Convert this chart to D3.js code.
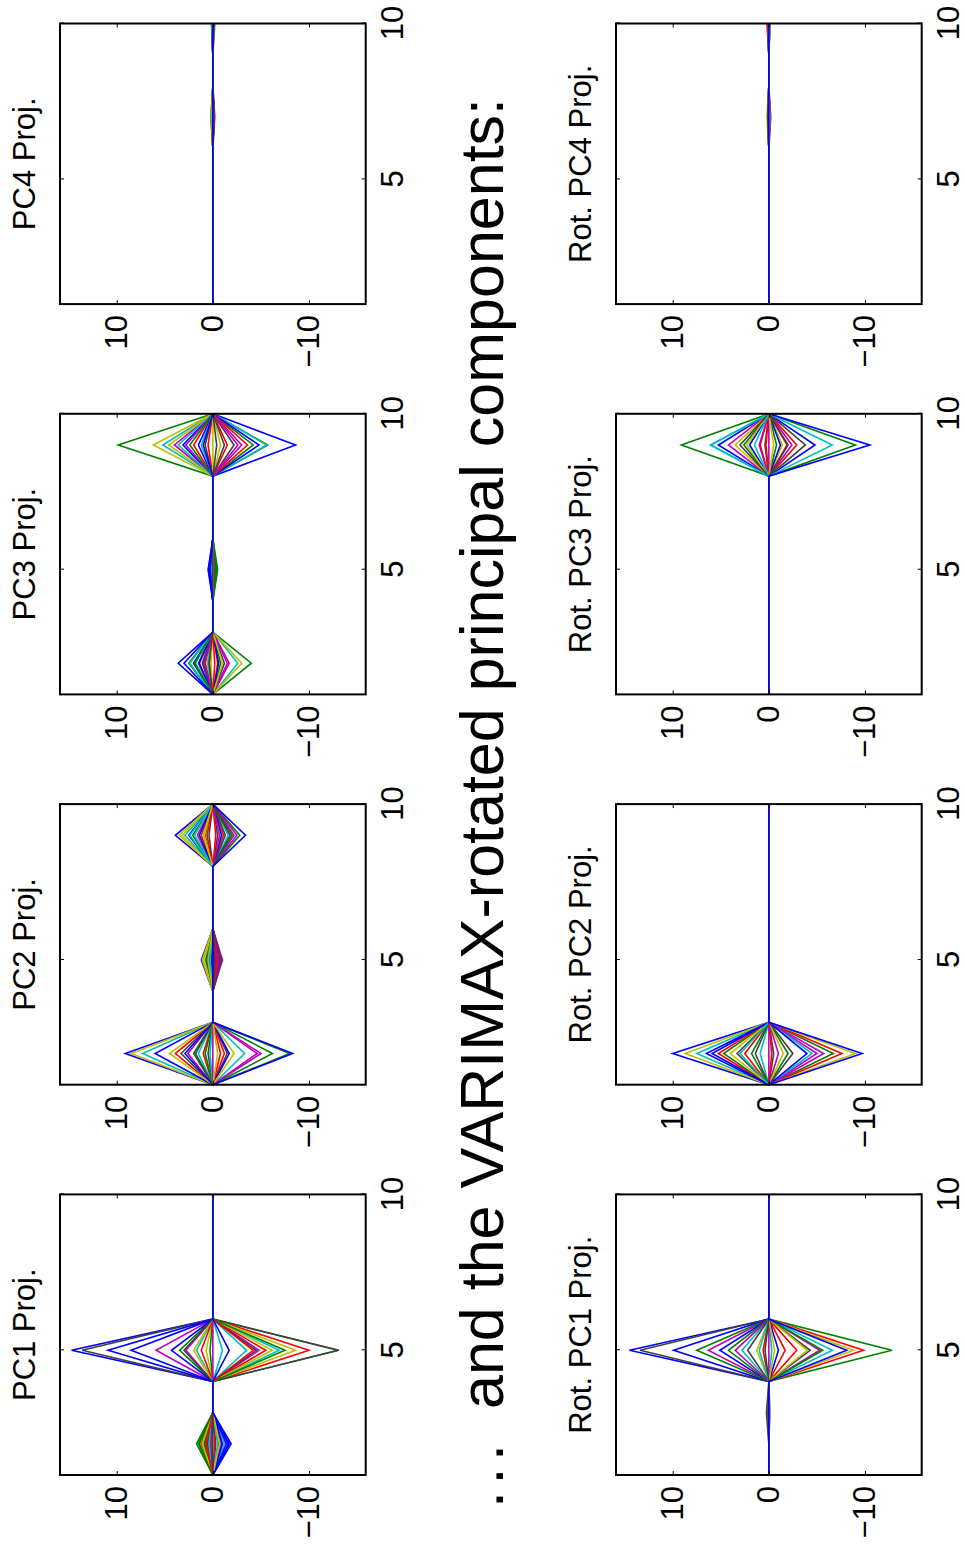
<!DOCTYPE html>
<html>
<head>
<meta charset="utf-8">
<script src="https://cdn.jsdelivr.net/npm/d3@7"></script>
<style>
  body { margin: 0; background: #fff; }
  svg { display: block; }
</style>
</head>
<body>
<div class="chart"></div>
<script>
// values along the x axis (variable index) and ticks
const xValues = [1, 2, 3, 4, 5, 6, 7, 8, 9, 10];
const xTicks = [5, 10];
const yTicks = [-10, 0, 10];
const yLimit = 15.9;

// MATLAB default color order
const colorOrder = ["#0000ff", "#008000", "#ff0000", "#00bfbf", "#bf00bf", "#bfbf00", "#404040"];

// projection values of each of the 29 lines, at the x positions where they leave zero
const pc1_x2 = [-1.9, 1.7, 1.2, -0.8, 0.5, 1.0, -0.3, -1.6, 1.4, 0.8, -1.2, -0.6, 0.3, 0.6, -1.4, 0.9, -0.2, 0.4, -0.9, 1.1, 0.2, -1.0, 1.5, 0.7, -0.5, 0.1, -0.7, 0.0, -1.7];
const pc1_x5 = [14.7, -13.0, -10.0, -6.9, 5.9, -8.6, 13.6, 10.9, 3.45, -5.5, 1.7, -4.8, 0.7, -13.1, 8.5, 0.3, 1.2, -3.5, 2.8, -6.2, -4.5, 4.3, -7.5, -4.2, -1.0, 0.0, 2.0, 3.0, -1.7];

const pc2_x2 = [9.1, -8.0, 3.9, 7.3, -5.0, 8.5, 3.3, 6.0, 2.0, -1.2, -3.3, 2.6, 4.5, -1.5, -1.7, -6.2, 1.0, 1.5, -4.6, -2.2, 0.5, 2.9, 0.8, -0.8, 0.3, 0.0, -0.5, 1.8, -8.3];
const pc2_x5 = [1.2, 0.6, -0.4, 0.9, -1.0, 1.1, 0.3, -0.7, 0.8, -0.2, 0.5, -0.8, 1.0, -0.5, 0.4, 0.7, -0.3, 0.2, -0.6, 0.9, -0.9, 0.1, 0.6, -0.4, 0.3, -0.1, 0.5, -0.2, 0.0];
const pc2_x9 = [3.9, -2.8, 1.2, 2.9, -2.2, 3.5, -0.5, 2.5, 0.8, -1.1, -1.6, 1.6, 3.2, 0.4, -0.9, 2.1, -0.3, 1.9, -2.5, 0.9, -1.3, 1.4, -2.0, 0.6, 2.4, -0.7, 1.0, -1.8, -3.4];

const pc3_x2 = [3.6, -4.0, -0.5, -2.6, -1.7, -3.0, 1.5, 2.0, 2.5, 0.3, 2.4, 1.1, 0.6, -1.2, 1.4, -0.8, 0.9, 1.8, -1.5, 0.2, 1.0, -0.6, 1.9, -0.2, 0.5, 0.8, -1.0, 0.4, 3.0];
const pc3_x5 = [0.5, -0.5, 0.1, -0.2, 0.2, -0.3, 0.0, 0.3, -0.4, 0.1, 0.0, 0.2, -0.1, 0.1, 0.4, -0.3, 0.0, -0.1, 0.1, 0.0, 0.1, 0.2, -0.2, 0.0, 0.1, -0.1, 0.0, 0.0, 0.3];
const pc3_x9 = [-8.6, 9.85, 2.0, 5.2, 4.0, 6.2, 0.8, 3.1, -5.7, -1.5, -5.6, -3.0, 4.6, -2.2, 1.5, -4.2, 0.5, 3.6, 2.8, -0.8, -1.2, -4.8, 2.4, -3.6, 1.2, -2.6, 0.0, -0.4, 1.0];

const pc4_x7 = [0.0, -0.1, 0.2, 0.1, -0.1, 0.15, -0.2, 0.1, 0.0, -0.1, 0.2, 0.0, 0.1, -0.15, 0.0, 0.1, -0.1, 0.0, 0.1, 0.0, -0.1, 0.0, 0.1, 0.0, 0.0, -0.1, 0.1, 0.0, 0.0];
const pc4_x10 = [0.0, 0.1, -0.2, 0.0, 0.1, -0.1, 0.15, 0.0, -0.1, 0.1, 0.0, 0.0, -0.1, 0.1, 0.0, 0.0, 0.1, -0.1, 0.0, 0.0, 0.1, 0.0, -0.1, 0.0, 0.1, 0.0, 0.0, -0.1, 0.0];

const rot1_x3 = [0.0, 0.0, 0.0, 0.0, 0.0, 0.0, 0.25, 0.0, 0.0, 0.0, 0.0, 0.0, 0.0, -0.1, 0.0, 0.0, 0.0, 0.0, 0.0, 0.0, 0.1, 0.0, 0.0, 0.0, 0.0, 0.0, 0.0, 0.0, 0.0];
const rot1_x5 = [14.5, -12.8, -9.85, -6.6, 6.3, -8.8, 13.4, 9.9, 7.5, -2.9, 2.8, -5.3, 1.25, -4.3, 5.1, 4.2, -1.7, -0.3, 3.5, -4.0, 2.2, -1.0, -5.6, 0.6, 1.0, 0.0, -0.6, 0.4, -8.1];
const rot2_x2 = [10.0, 4.7, 5.25, 7.5, -1.0, 8.7, 3.3, 6.5, -2.0, 2.5, 0.9, -5.0, 4.0, -0.5, 5.9, -6.7, -7.6, -4.5, -5.7, -1.5, 1.4, -3.96, 1.8, -0.3, 3.0, 0.0, -9.0, -2.5, -9.7];
const rot3_x9 = [5.25, 9.1, -2.9, 6.1, 4.2, 3.5, 0.4, -4.8, -9.0, 0.9, 6.0, -2.4, -1.4, -3.8, 2.0, 2.6, -1.9, -6.6, 1.0, 2.3, 3.0, -1.2, -0.8, 0.3, 1.5, 0.0, -0.5, -2.0, -10.5];
const rot4_x7 = [0.0, 0.1, -0.1, 0.0, 0.1, 0.2, -0.1, 0.0, 0.1, -0.2, 0.0, 0.1, 0.0, -0.1, 0.0, 0.1, 0.0, 0.0, -0.1, 0.1, 0.0, 0.0, 0.1, 0.0, -0.1, 0.0, 0.0, 0.1, 0.0];
const rot4_x10 = [0.0, -0.1, 0.2, 0.0, -0.1, 0.1, 0.0, 0.1, 0.0, 0.0, -0.1, 0.1, 0.0, 0.0, 0.1, -0.1, 0.0, 0.1, 0.0, 0.0, -0.1, 0.0, 0.1, 0.0, 0.0, 0.1, -0.1, 0.0, 0.0];

const titles = ["PC1 Proj.", "PC2 Proj.", "PC3 Proj.", "PC4 Proj.",
                "Rot. PC1 Proj.", "Rot. PC2 Proj.", "Rot. PC3 Proj.", "Rot. PC4 Proj."];
const spikes = [
  [[2, pc1_x2], [5, pc1_x5]],
  [[2, pc2_x2], [5, pc2_x5], [9, pc2_x9]],
  [[2, pc3_x2], [5, pc3_x5], [9, pc3_x9]],
  [[7, pc4_x7], [10, pc4_x10]],
  [[3, rot1_x3], [5, rot1_x5]],
  [[2, rot2_x2]],
  [[9, rot3_x9]],
  [[7, rot4_x7], [10, rot4_x10]]
];
const caption = "and the VARIMAX-rotated principal components:";

//************************************************************
// figure is drawn landscape (1550 x 965) then turned 90 degrees
//************************************************************
const font = "'Liberation Sans', Arial, Helvetica, sans-serif";
const plotW = 280.6, plotH = 305.7;
const colStep = 390.3, firstLeft = 75;
const rowTop = [60, 616];

const svg = d3.select(".chart").append("svg")
    .attr("width", 965)
    .attr("height", 1550);

svg.append("rect").attr("width", 965).attr("height", 1550).attr("fill", "#fff");

const fig = svg.append("g")
    .attr("transform", "translate(0,1550) rotate(-90)");

titles.forEach(function (title, p) {
    const left = firstLeft + (p % 4) * colStep;
    const top = rowTop[Math.floor(p / 4)];

    const x = d3.scaleLinear().domain([1, 10]).range([left, left + plotW]);
    const y = d3.scaleLinear().domain([-yLimit, yLimit]).range([top + plotH, top]);

    const n = spikes[p][0][1].length;
    const series = d3.range(n).map(function (i) {
        return xValues.map(function (xv) {
            const s = spikes[p].find(function (d) { return d[0] === xv; });
            return { x: xv, y: s ? s[1][i] : 0 };
        });
    });

    const g = fig.append("g");

    const line = d3.line()
        .x(function (d) { return x(d.x); })
        .y(function (d) { return y(d.y); });

    g.selectAll(".line")
        .data(series)
        .enter()
        .append("path")
        .attr("class", "line")
        .attr("fill", "none")
        .attr("stroke", function (d, i) { return colorOrder[i % colorOrder.length]; })
        .attr("stroke-width", 1.6)
        .attr("stroke-linejoin", "miter")
        .attr("d", line);

    // axes, ticks pointing inwards as in MATLAB
    const ax = [
        g.append("g").attr("transform", "translate(0," + (top + plotH) + ")")
            .call(d3.axisBottom(x).tickValues(xTicks).tickSizeInner(-4).tickSizeOuter(0).tickPadding(15.5)),
        g.append("g").attr("transform", "translate(0," + top + ")")
            .call(d3.axisTop(x).tickValues(xTicks).tickSizeInner(-4).tickSizeOuter(0).tickFormat("")),
        g.append("g").attr("transform", "translate(" + left + ",0)")
            .call(d3.axisLeft(y).tickValues(yTicks).tickSizeInner(-4).tickSizeOuter(0).tickPadding(11)),
        g.append("g").attr("transform", "translate(" + (left + plotW) + ",0)")
            .call(d3.axisRight(y).tickValues(yTicks).tickSizeInner(-4).tickSizeOuter(0).tickFormat(""))
    ];
    ax.forEach(function (a) {
        a.attr("font-family", font).attr("font-size", 31);
        a.select(".domain").remove();
        a.selectAll(".tick line").attr("stroke", "#000").attr("stroke-width", 1);
        a.selectAll(".tick text").attr("fill", "#000");
    });

    g.append("rect")
        .attr("x", left)
        .attr("y", top)
        .attr("width", plotW)
        .attr("height", plotH)
        .attr("fill", "none")
        .attr("stroke", "#000")
        .attr("stroke-width", 2);

    g.append("text")
        .attr("x", left + plotW / 2)
        .attr("y", top - 25)
        .attr("text-anchor", "middle")
        .attr("font-family", font)
        .attr("font-size", 31)
        .text(title);
});

const cap = fig.append("text")
    .attr("y", 503)
    .attr("font-family", font)
    .attr("font-size", 61);
cap.append("tspan").attr("x", 42).attr("letter-spacing", 6.5).text("...");
cap.append("tspan").attr("x", 141).text(caption);
</script>
</body>
</html>
